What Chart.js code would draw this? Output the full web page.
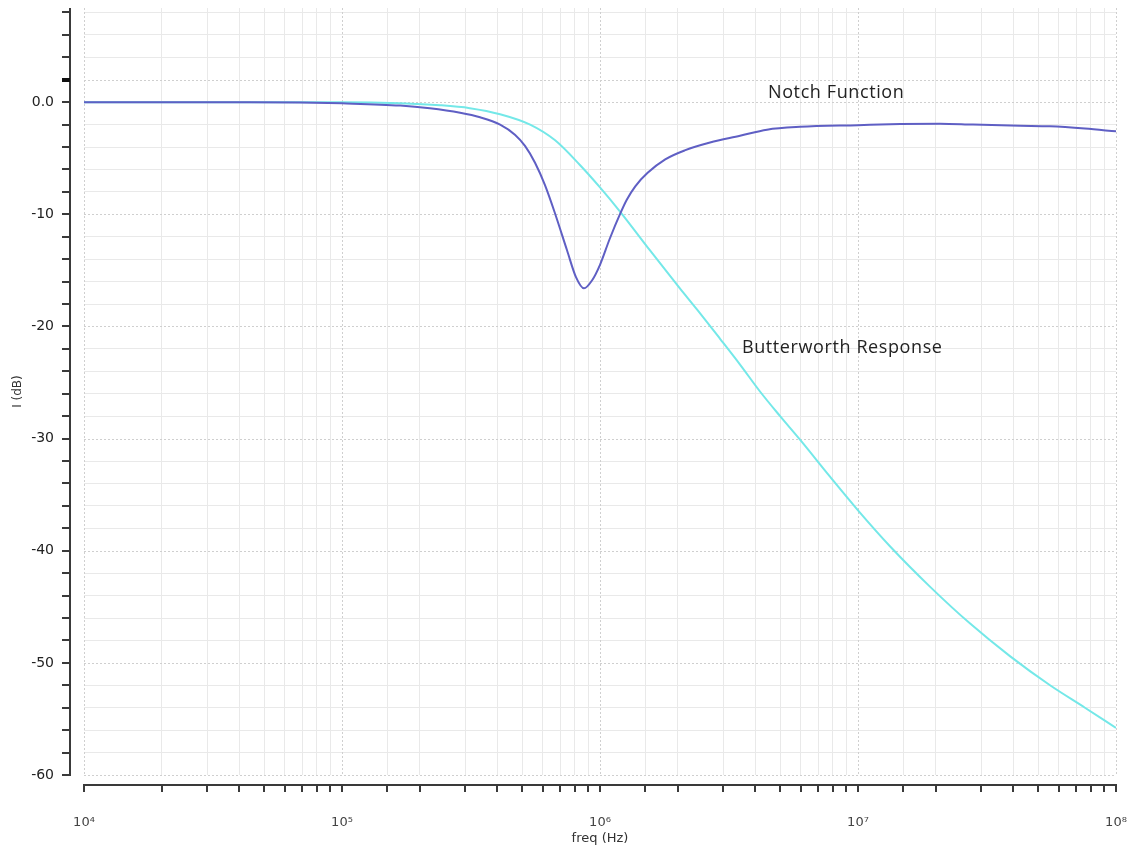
<!DOCTYPE html>
<html>
<head>
<meta charset="utf-8">
<title>Notch vs Butterworth</title>
<script src="https://cdn.jsdelivr.net/npm/chart.js@4.4.1/dist/chart.umd.min.js"></script>
<style>
  html, body { margin: 0; padding: 0; background: #fff; }
  #wrap { width: 1131px; height: 852px; }
</style>
</head>
<body>
<div id="wrap"><canvas id="bodeChart" width="1131" height="852"></canvas></div>
<script>
// DATA 

// notch filter response: frequency (Hz) / gain (dB)
const notchFreq = [1e4, 4.4e4, 6.9e4, 1e5, 1.68e5, 2.19e5, 2.87e5, 3.43e5, 4.1e5, 4.68e5,
  5.12e5, 5.6e5, 6.12e5, 6.69e5, 7.45e5, 8.07e5, 8.67e5, 9.31e5, 1e6, 1.09e6,
  1.2e6, 1.27e6, 1.37e6, 1.53e6, 1.79e6, 2.13e6, 2.67e6, 3.49e6, 4.44e6, 5.96e6,
  1e7, 1.46e7, 2.08e7, 2.79e7, 4.25e7, 5.55e7, 7.58e7, 1e8];
const notchGain = [0, 0, -0.02, -0.1, -0.3, -0.55, -0.95, -1.35, -2.0, -2.9,
  -3.9, -5.4, -7.4, -9.9, -13.2, -15.6, -16.6, -15.9, -14.5, -12.2,
  -9.9, -8.7, -7.5, -6.3, -5.1, -4.3, -3.6, -3.0, -2.45, -2.2,
  -2.05, -1.95, -1.92, -2.0, -2.1, -2.15, -2.35, -2.6];

// butterworth response: frequency (Hz) / gain (dB)
const butterFreq = [1e4, 1e5, 1.68e5, 2.4e5, 3.13e5, 4.1e5, 5.36e5, 6.7e5, 8.36e5, 1e6,
  1.2e6, 1.56e6, 2.04e6, 2.38e6, 2.92e6, 3.49e6, 4.17e6, 4.99e6, 5.96e6, 7.79e6,
  1e7, 1.33e7, 1.9e7, 2.72e7, 3.88e7, 5.55e7, 7.58e7, 1e8];
const butterGain = [0, 0, -0.09, -0.27, -0.53, -1.07, -2.0, -3.4, -5.6, -7.6,
  -9.8, -13.2, -16.6, -18.5, -21.1, -23.4, -25.8, -28.0, -30.1, -33.4,
  -36.4, -39.6, -43.2, -46.5, -49.4, -52.0, -54.0, -55.8];

// x tick labels for the decades
const decadeValues = [1e4, 1e5, 1e6, 1e7, 1e8];
const decadeLabels = ['10\u2074', '10\u2075', '10\u2076', '10\u2077', '10\u2078'];

// text placed on the plot
const noteTexts = ['Notch Function', 'Butterworth Response'];
const noteFreqs = [4.48e6, 3.55e6];
const noteGains = [0.36, -22.4];

// HELPERS 

function isDecade(v) {
  const l = Math.log10(v);
  return Math.abs(l - Math.round(l)) < 1e-9;
}

function isMajorY(v) {
  return v % 10 === 0 || v === 2;
}

function toPoints(xs, ys) {
  return xs.map((f, i) => ({ x: f, y: ys[i] }));
}

function hLine(ctx, x1, y1, x2, y2) {
  ctx.beginPath();
  ctx.moveTo(x1, y1);
  ctx.lineTo(x2, y2);
  ctx.stroke();
}

// dotted major grid + detached axis lines with tick marks
const bodeFrame = {
  id: 'bodeFrame',
  beforeDatasetsDraw(chart) {
    const { ctx, chartArea: a, scales: { x, y } } = chart;
    ctx.save();
    ctx.strokeStyle = '#cfcfcf';
    ctx.lineWidth = 1;
    ctx.setLineDash([2, 2]);
    x.ticks.forEach(t => {
      if (!isDecade(t.value)) return;
      const px = Math.round(x.getPixelForValue(t.value)) + 0.5;
      hLine(ctx, px, a.top, px, a.bottom);
    });
    y.ticks.forEach(t => {
      if (!isMajorY(t.value)) return;
      const py = Math.round(y.getPixelForValue(t.value)) + 0.5;
      hLine(ctx, a.left, py, a.right, py);
    });
    ctx.restore();
  },
  afterDraw(chart) {
    const { ctx, chartArea: a, scales: { x, y } } = chart;
    const axisX = a.left - 14;
    const axisY = a.bottom + 10;
    ctx.save();
    ctx.strokeStyle = '#3a3a3a';
    ctx.lineWidth = 2;
    // y axis
    hLine(ctx, axisX, a.top, axisX, y.getPixelForValue(-60) + 1);
    y.ticks.forEach(t => {
      const py = Math.round(y.getPixelForValue(t.value));
      ctx.lineWidth = t.value === 2 ? 4 : 2;
      ctx.strokeStyle = t.value === 2 ? '#111' : '#3a3a3a';
      hLine(ctx, axisX - 8, py, axisX, py);
    });
    // x axis
    ctx.lineWidth = 2;
    ctx.strokeStyle = '#3a3a3a';
    hLine(ctx, a.left - 1, axisY, a.right + 1, axisY);
    x.ticks.forEach(t => {
      const px = Math.round(x.getPixelForValue(t.value));
      hLine(ctx, px, axisY, px, axisY + 7);
    });
    ctx.restore();
  },
  afterDatasetsDraw(chart) {
    const { ctx, scales: { x, y } } = chart;
    ctx.save();
    ctx.fillStyle = '#222';
    ctx.font = '18px "Open Sans", sans-serif';
    ctx.letterSpacing = '0.6px';
    ctx.textBaseline = 'alphabetic';
    ctx.textAlign = 'left';
    noteTexts.forEach((txt, i) => {
      ctx.fillText(txt, x.getPixelForValue(noteFreqs[i]), y.getPixelForValue(noteGains[i]));
    });
    ctx.restore();
  }
};

// CHART 

const ctx = document.getElementById('bodeChart').getContext('2d');

const bodeChart = new Chart(ctx, {
  type: 'line',
  data: {
    datasets: [{
      label: 'Notch Function',
      data: toPoints(notchFreq, notchGain),
      borderColor: '#5f5fc4',
      borderWidth: 2,
      pointRadius: 0,
      fill: false,
      cubicInterpolationMode: 'monotone'
    }, {
      label: 'Butterworth Response',
      data: toPoints(butterFreq, butterGain),
      borderColor: '#74e8e8',
      borderWidth: 2,
      pointRadius: 0,
      fill: false,
      cubicInterpolationMode: 'monotone'
    }]
  },
  options: {
    responsive: false,
    animation: false,
    layout: {
      padding: { top: 8, right: 15, left: 0, bottom: 0 }
    },
    plugins: {
      legend: { display: false },
      tooltip: { enabled: false }
    },
    scales: {
      x: {
        type: 'logarithmic',
        min: 1e4,
        max: 1e8,
        // fixed box, no extra room for the outer labels
        afterFit: scale => {
          scale.height = 77;
          scale.paddingLeft = 0;
          scale.paddingRight = 0;
        },
        border: { display: false },
        grid: {
          drawTicks: false,
          color: c => (c.tick && isDecade(c.tick.value)) ? 'rgba(0,0,0,0)' : '#e9e9e9'
        },
        ticks: {
          autoSkip: false,
          maxRotation: 0,
          padding: 40,
          color: '#444',
          font: { family: '"DejaVu Sans", sans-serif', size: 13 },
          callback: v => {
            const i = decadeValues.findIndex(d => Math.abs(d - v) < 1e-6 * d);
            return i >= 0 ? decadeLabels[i] : '';
          }
        },
        title: {
          display: true,
          text: 'freq (Hz)',
          color: '#333',
          padding: { top: 0, bottom: 6 },
          font: { family: '"DejaVu Sans", sans-serif', size: 13 }
        }
      },
      y: {
        min: -60,
        max: 8.4,
        afterFit: scale => {
          scale.width = 84;
          scale.paddingTop = 0;
          scale.paddingBottom = 0;
        },
        border: { display: false },
        grid: {
          drawTicks: false,
          color: c => (c.tick && isMajorY(c.tick.value)) ? 'rgba(0,0,0,0)' : '#e9e9e9'
        },
        ticks: {
          stepSize: 2,
          includeBounds: false,
          autoSkip: false,
          padding: 30,
          color: '#222',
          font: { family: '"DejaVu Sans", sans-serif', size: 14 },
          callback: v => {
            if (v % 10 !== 0) return '';
            return v === 0 ? '0.0' : String(v);
          }
        },
        title: {
          display: true,
          text: 'I (dB)',
          color: '#333',
          padding: { top: 11, bottom: 0 },
          font: { family: '"DejaVu Sans", sans-serif', size: 12 }
        }
      }
    }
  },
  plugins: [bodeFrame]
});
</script>
</body>
</html>
